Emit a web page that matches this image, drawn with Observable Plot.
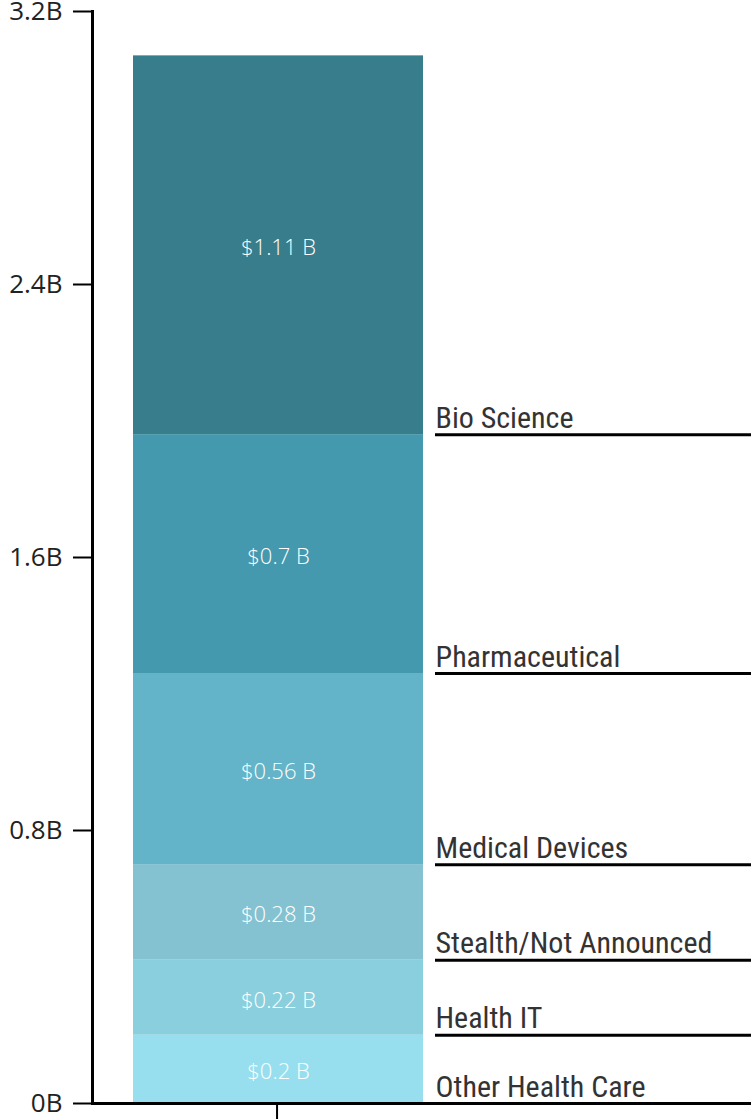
<!DOCTYPE html>
<html>
<head>
<meta charset="utf-8">
<script src="https://cdn.jsdelivr.net/npm/d3@7"></script>
<script src="https://cdn.jsdelivr.net/npm/@observablehq/plot@0.6"></script>
<style>
  html, body { margin: 0; padding: 0; background: #fff; }
  #chart svg { display: block; }
</style>
</head>
<body>
<div id="chart"></div>
<script>
const categories = ["Other Health Care", "Health IT", "Stealth/Not Announced", "Medical Devices", "Pharmaceutical", "Bio Science"];
const values = [0.2, 0.22, 0.28, 0.56, 0.7, 1.11];
const valueLabels = ["$0.2 B", "$0.22 B", "$0.28 B", "$0.56 B", "$0.7 B", "$1.11 B"];
const colors = ["#97dfee", "#8acfdd", "#84c2d1", "#63b4c8", "#4499ae", "#377d8c"];
const yTicks = [0, 0.8, 1.6, 2.4, 3.2];

const data = categories.map((c, i) => ({category: c, value: values[i], label: valueLabels[i]}));

const chart = Plot.plot({
  width: 751,
  height: 1119,
  marginLeft: 92,
  marginRight: 0,
  marginTop: 11,
  marginBottom: 16,
  style: {background: "#fff"},
  x: {domain: [0, 1], range: [133, 423], axis: null},
  y: {domain: [0, 3.2], axis: null},
  color: {domain: categories, range: colors},
  marks: [
    Plot.rectY(data, Plot.stackY({x1: 0, x2: 1, y: "value", fill: "category"})),
    Plot.text(data, Plot.stackY({x: 0.5, y: "value", text: "label", fill: "white", dy: 3,
      fontSize: 22, fontFamily: "'Open Sans', Lato, sans-serif", fontWeight: 300})),
    Plot.ruleY(data, Plot.stackY1({y: "value", x1: 1, x2: 2.2, dx: 12, stroke: "black", strokeWidth: 3})),
    Plot.text(data, Plot.stackY1({y: "value", x: 1, dx: 12, dy: -7, text: "category", textAnchor: "start", lineAnchor: "bottom",
      fill: "#333", fontSize: 30, fontFamily: "'Roboto Condensed', 'Liberation Sans Narrow', Roboto, sans-serif"})),
    Plot.frame({anchor: "left", stroke: "black", strokeWidth: 3}),
    Plot.ruleY([0], {stroke: "black", strokeWidth: 3}),
    Plot.axisY(yTicks, {tickSize: 19, tickPadding: 11, tickFormat: d => d + "B", strokeWidth: 2, label: null,
      fontSize: 26, fontFamily: "'Open Sans', Lato, sans-serif", fill: "#222", stroke: "black"}),
    Plot.axisX([0.495], {tickSize: 16, tickFormat: () => "", strokeWidth: 2, stroke: "black", label: null})
  ]
});
document.getElementById("chart").appendChild(chart);
</script>
</body>
</html>
